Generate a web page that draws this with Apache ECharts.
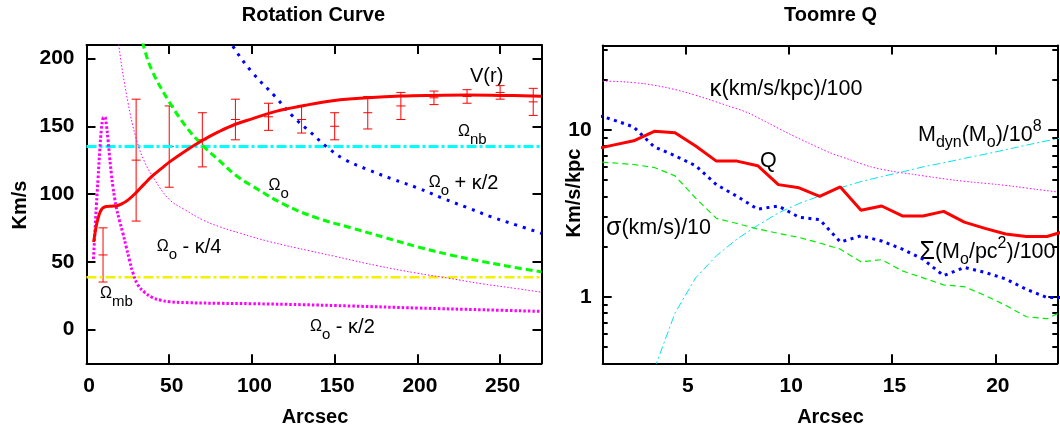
<!DOCTYPE html>
<html>
<head>
<meta charset="utf-8">
<script src="https://cdn.jsdelivr.net/npm/echarts@6/dist/echarts.min.js"></script>
<style>
html,body{margin:0;padding:0;background:#fff;}
#chart{width:1060px;height:433px;}
</style>
</head>
<body>
<div id="chart"></div>
<script>
// ---------------- Left panel: Rotation Curve ----------------
const leftXTicks = [0, 50, 100, 150, 200, 250];
const leftYTicks = [0, 50, 100, 150, 200];

// V(r) model curve
const vrX = [4.3, 5, 6, 7, 8, 9, 10, 12, 15, 18, 21, 25, 30, 35, 40, 45, 50, 60, 70, 80, 90, 100, 115, 130, 150, 170, 190, 210, 230, 250, 275];
const vrY = [64.5, 70, 77, 82, 86, 88.5, 89.8, 90.7, 91, 91.2, 92.5, 95.5, 101, 107.5, 113.5, 118.5, 123.5, 132, 139.5, 146, 151.5, 155.5, 161.2, 165, 169, 171, 172.3, 172.8, 173, 172.8, 172.2];

// observed points with error bars
const obsX = [10, 30, 50, 70, 90, 110, 130, 150, 170, 190, 210, 230, 250, 270];
const obsV = [55, 125, 135, 140, 155, 157, 155, 150, 160, 165, 171, 172, 175, 168];
const obsErr = [20, 45, 30, 20, 15, 10, 10, 10, 12, 10, 5, 5, 5, 10];

// Omega_o (green dashed)
const omX = [20, 25, 30, 35, 40, 50, 60, 70, 80, 90, 100, 120, 140, 160, 180, 200, 220, 240, 260, 275];
const omY = [300, 258, 232, 207, 190, 168, 150, 136, 125, 114, 106, 92, 82, 75, 68, 61, 55, 50, 45.5, 42.5];

// Omega_o + kappa/2 (blue dotted)
const opX = [70, 80, 88, 100, 114, 125, 135, 145, 156, 170, 185, 200, 215, 230, 245, 260, 275];
const opY = [250, 228, 210, 190, 172, 157, 146, 135, 125.5, 118, 111, 104.5, 97, 90, 83, 77, 71];

// Omega_o - kappa/4 (thin magenta dotted)
const oq4X = [15, 19.5, 25, 30, 35, 41, 50, 60, 70, 80, 93, 110, 135, 150, 176, 200, 218, 240, 255, 275];
const oq4Y = [262, 210, 168, 141, 124, 111, 96, 88, 81, 76, 71, 65, 58, 54, 47, 41.5, 38, 33.5, 31, 27.5];

// Omega_o - kappa/2 (thick magenta dotted)
const oq2X = [4.2, 5, 6, 7, 8, 9, 10, 11, 12, 13, 14, 15, 16, 17, 18, 20, 22, 24, 26, 28, 31, 35, 40, 45, 50, 60, 80, 100, 130, 160, 200, 240, 275];
const oq2Y = [52, 70, 92, 112, 132, 148, 156, 157, 151, 140, 127, 115, 105, 97, 90, 80, 71, 61, 51, 42, 33, 27.5, 23.5, 21.5, 20.5, 19.8, 19.3, 19, 18.3, 17.3, 15.8, 14.5, 13.3];

// pattern speeds (horizontal lines)
const omegaNbX = [0, 275];
const omegaNbY = [135, 135];
const omegaMbX = [0, 275];
const omegaMbY = [38.5, 38.5];

// ---------------- Right panel: Toomre Q ----------------
const rightXTicks = [5, 10, 15, 20];
const rightYMajor = [1, 10];
const rightYMinor = [0.5, 0.6, 0.7, 0.8, 0.9, 2, 3, 4, 5, 6, 7, 8, 9, 20, 30];

const rX = [0.5, 1.5, 2.5, 3.5, 4.5, 5.5, 6.5, 7.5, 8.5, 9.5, 10.5, 11.5, 12.5, 13.5, 14.5, 15.5, 16.5, 17.5, 18.5, 19.5, 20.5, 21.5, 22.5, 23.5];
const qVal =     [7.6, 8.1, 8.6, 9.8, 9.6, 8.0, 6.5, 6.5, 6.1, 4.7, 4.5, 4.0, 4.55, 3.3, 3.5, 3.05, 3.05, 3.25, 2.8, 2.57, 2.38, 2.3, 2.3, 2.5];
const sigmaSurf = [12.5, 11.5, 10.4, 7.9, 7.0, 6.1, 4.7, 4.0, 3.35, 3.5, 3.0, 2.9, 2.13, 2.32, 2.16, 1.93, 1.68, 1.34, 1.5, 1.4, 1.28, 1.11, 0.99, 0.99];
const sigmaVel = [6.45, 6.35, 6.2, 5.95, 5.3, 3.9, 2.95, 2.75, 2.55, 2.4, 2.27, 2.1, 1.93, 1.62, 1.67, 1.43, 1.3, 1.18, 1.15, 1.02, 0.89, 0.76, 0.74, 0.85];

const kapX = [1, 2, 3, 4, 5, 6, 7, 8, 9, 10, 11, 12, 13, 14, 15, 16, 17, 18, 19, 20, 21, 22, 23];
const kapVal = [19.6, 19.4, 18.9, 18.0, 16.8, 15.4, 14.0, 12.7, 11.0, 9.5, 8.3, 7.3, 6.6, 6.0, 5.65, 5.42, 5.2, 5.0, 4.85, 4.72, 4.57, 4.4, 4.25];

const mdynX = [3.5, 4.5, 5.5, 6.5, 7.5, 8.5, 9.5, 10.5, 11.5, 12.5, 13.5, 14.5, 15.5, 16.5, 17.5, 18.5, 19.5, 20.5, 21.5, 22.5, 23.5];
const mdynVal = [0.37, 0.80, 1.30, 1.76, 2.22, 2.68, 3.18, 3.62, 4.02, 4.5, 4.9, 5.25, 5.6, 6.0, 6.35, 6.75, 7.15, 7.6, 8.1, 8.6, 9.1];

// ---------------- helpers ----------------
const FF = '"Liberation Sans", Arial, Helvetica, sans-serif';
const zip = (xs, ys) => xs.map((x, i) => [x, ys[i]]);
const mctx = document.createElement('canvas').getContext('2d');
function tw(t, size, weight) { mctx.font = (weight || 'normal') + ' ' + size + 'px ' + FF; return mctx.measureText(t).width; }
// parts: [text, size, dy]
function richLabel(x, y, parts) {
  let cx = x; const children = [];
  parts.forEach(p => {
    const [t, size, dy] = p;
    children.push({ type: 'text', x: cx, y: y + (dy || 0),
      style: { text: t, font: 'normal ' + size + 'px ' + FF, fill: '#000', align: 'left', textAlign: 'left', verticalAlign: 'middle', textVerticalAlign: 'middle' } });
    cx += tw(t, size);
  });
  return { type: 'group', children: children, silent: true };
}
function plainText(x, y, t, size, weight, rot) {
  return { type: 'text', x: x, y: y, rotation: rot || 0,
    style: { text: t, font: weight + ' ' + size + 'px ' + FF, fill: '#000', align: 'center', textAlign: 'center', verticalAlign: 'middle', textVerticalAlign: 'middle' } };
}

const tickLabel = { color: '#000', fontFamily: FF, fontWeight: 'bold', fontSize: 21 };
const frameLine = { show: true, onZero: false, lineStyle: { color: '#000', width: 2 } };
function axisBase(extra) {
  return Object.assign({ splitLine: { show: false }, axisLine: frameLine }, extra);
}
function ticks(len, vals) {
  return { inside: true, length: len, customValues: vals, lineStyle: { color: '#000', width: 2 } };
}

const G0 = { left: 86.5, top: 45, width: 455, height: 318.3, containLabel: false, outerBoundsMode: 'none' };
const G1 = { left: 602.7, top: 45.5, width: 454.6, height: 317.8, containLabel: false, outerBoundsMode: 'none' };

const OM = 16, SUB = 15, TXT = 20, SD = 8;
const TXT2 = 21.5, SUB2 = 16;

const option = {
  animation: false,
  backgroundColor: '#fff',
  grid: [G0, G1],
  xAxis: [
    axisBase({ gridIndex: 0, type: 'value', position: 'bottom', min: 0, max: 275,
      axisTick: ticks(9, leftXTicks),
      axisLabel: Object.assign({ margin: 12, customValues: leftXTicks, padding: [0, 0, 0, 5] }, tickLabel) }),
    axisBase({ gridIndex: 0, type: 'value', position: 'top', min: 0, max: 275,
      axisTick: ticks(9, leftXTicks), axisLabel: { show: false } }),
    axisBase({ gridIndex: 1, type: 'value', position: 'bottom', min: 1, max: 23,
      axisTick: ticks(9, rightXTicks),
      axisLabel: Object.assign({ margin: 12, customValues: rightXTicks, padding: [0, 0, 0, 5] }, tickLabel) }),
    axisBase({ gridIndex: 1, type: 'value', position: 'top', min: 1, max: 23,
      axisTick: ticks(9, rightXTicks), axisLabel: { show: false } })
  ],
  yAxis: [
    axisBase({ gridIndex: 0, type: 'value', position: 'left', min: -25, max: 210,
      axisTick: ticks(9, leftYTicks),
      axisLabel: Object.assign({ margin: 12, customValues: leftYTicks }, tickLabel) }),
    axisBase({ gridIndex: 0, type: 'value', position: 'right', min: -25, max: 210,
      axisTick: ticks(9, leftYTicks), axisLabel: { show: false } }),
    axisBase({ gridIndex: 1, type: 'log', position: 'left', min: 0.4, max: 32, logBase: 10,
      axisTick: ticks(9, rightYMajor),
      axisLabel: Object.assign({ margin: 11, customValues: rightYMajor }, tickLabel) }),
    axisBase({ gridIndex: 1, type: 'log', position: 'right', min: 0.4, max: 32, logBase: 10,
      axisTick: ticks(9, rightYMajor), axisLabel: { show: false } }),
    axisBase({ gridIndex: 1, type: 'log', position: 'left', min: 0.4, max: 32, logBase: 10,
      axisLine: { show: false }, axisTick: ticks(5, rightYMinor), axisLabel: { show: false } }),
    axisBase({ gridIndex: 1, type: 'log', position: 'right', min: 0.4, max: 32, logBase: 10,
      axisLine: { show: false }, axisTick: ticks(5, rightYMinor), axisLabel: { show: false } })
  ],
  series: [
    // ----- left -----
    { type: 'line', xAxisIndex: 0, yAxisIndex: 0, data: zip(omegaNbX, omegaNbY), symbol: 'none',
      lineStyle: { color: '#00ffff', width: 3, type: [10, 3, 3, 3] } },
    { type: 'line', xAxisIndex: 0, yAxisIndex: 0, data: zip(omegaMbX, omegaMbY), symbol: 'none',
      lineStyle: { color: '#f2f200', width: 2.5, type: [10, 3, 3, 3] } },
    { type: 'line', xAxisIndex: 0, yAxisIndex: 0, data: zip(oq4X, oq4Y), symbol: 'none', smooth: 0.4,
      lineStyle: { color: '#ff00ff', width: 1, type: [1.5, 2] } },
    { type: 'line', xAxisIndex: 0, yAxisIndex: 0, data: zip(oq2X, oq2Y), symbol: 'none', smooth: 0.4,
      lineStyle: { color: '#ff00ff', width: 3, type: [2.5, 2] } },
    { type: 'line', xAxisIndex: 0, yAxisIndex: 0, data: zip(omX, omY), symbol: 'none', smooth: 0.4,
      lineStyle: { color: '#00ff00', width: 3, type: [7, 4] } },
    { type: 'line', xAxisIndex: 0, yAxisIndex: 0, data: zip(opX, opY), symbol: 'none', smooth: 0.4,
      lineStyle: { color: '#0000ff', width: 3, type: [3, 6] } },
    { type: 'custom', xAxisIndex: 0, yAxisIndex: 0,
      data: obsX.map((x, i) => [x, obsV[i], obsV[i] - obsErr[i], obsV[i] + obsErr[i]]),
      encode: { x: 0, y: [1, 2, 3] },
      renderItem: function (params, api) {
        const x = api.value(0);
        const pm = api.coord([x, api.value(1)]);
        const pl = api.coord([x, api.value(2)]);
        const ph = api.coord([x, api.value(3)]);
        const w = 4.5;
        const st = { stroke: '#ff0000', lineWidth: 1 };
        const L = (x1, y1, x2, y2) => ({ type: 'line', shape: { x1: x1, y1: y1, x2: x2, y2: y2 }, style: st });
        return { type: 'group', children: [
          L(pl[0], pl[1], ph[0], ph[1]),
          L(pl[0] - w, pl[1], pl[0] + w, pl[1]),
          L(ph[0] - w, ph[1], ph[0] + w, ph[1]),
          L(pm[0] - w, pm[1], pm[0] + w, pm[1])
        ] };
      } },
    { type: 'line', xAxisIndex: 0, yAxisIndex: 0, data: zip(vrX, vrY), symbol: 'none', smooth: 0.4,
      lineStyle: { color: '#ff0000', width: 3 } },
    // ----- right -----
    { type: 'line', xAxisIndex: 2, yAxisIndex: 2, data: zip(kapX, kapVal), symbol: 'none', smooth: 0.3,
      lineStyle: { color: '#ff00ff', width: 1, type: [1.5, 2] } },
    { type: 'line', xAxisIndex: 2, yAxisIndex: 2, data: zip(mdynX, mdynVal), symbol: 'none',
      lineStyle: { color: '#00e5ee', width: 1, type: [8, 3, 2, 3] } },
    { type: 'line', xAxisIndex: 2, yAxisIndex: 2, data: zip(rX, sigmaVel), symbol: 'none',
      lineStyle: { color: '#00ee00', width: 1.2, type: [6, 4] } },
    { type: 'line', xAxisIndex: 2, yAxisIndex: 2, data: zip(rX, sigmaSurf), symbol: 'none',
      lineStyle: { color: '#0000ff', width: 3, type: [3, 4.5] } },
    { type: 'line', xAxisIndex: 2, yAxisIndex: 2, data: zip(rX, qVal), symbol: 'none',
      lineStyle: { color: '#ff0000', width: 3 } }
  ],
  graphic: [
    plainText(313.4, 15, 'Rotation Curve', 20, 'bold'),
    plainText(830.5, 15, 'Toomre Q', 20, 'bold'),
    plainText(315, 417, 'Arcsec', 20, 'bold'),
    plainText(830.5, 417, 'Arcsec', 20, 'bold'),
    plainText(20, 205, 'Km/s', 20, 'bold', Math.PI / 2),
    plainText(574, 193, 'Km/s/kpc', 20, 'bold', Math.PI / 2),
    // left annotations
    richLabel(470, 76, [['V(r)', TXT, 0]]),
    richLabel(458, 132, [['Ω', OM, 0], ['nb', SUB, SD]]),
    richLabel(268.6, 186, [['Ω', OM, 0], ['o', SUB, SD]]),
    richLabel(428.7, 183, [['Ω', OM, 0], ['o', SUB, SD], [' + κ/2', TXT, 0]]),
    richLabel(156.7, 247, [['Ω', OM, 0], ['o', SUB, SD], [' - κ/4', TXT, 0]]),
    richLabel(100, 294, [['Ω', OM, 0], ['mb', SUB, SD]]),
    richLabel(310, 327, [['Ω', OM, 0], ['o', SUB, SD], [' - κ/2', TXT, 0]]),
    // right annotations
    richLabel(709.5, 89, [['κ', 24, 0], ['(km/s/kpc)/100', TXT2, 0]]),
    richLabel(760, 161, [['Q', TXT2, 0]]),
    richLabel(918, 135, [['M', TXT2, 0], ['dyn', SUB2, SD], ['(M', TXT2, 0], ['o', SUB2, SD], [')/10', TXT2, 0], ['8', SUB2, -8]]),
    richLabel(606, 228, [['σ', 25, 0], ['(km/s)/10', TXT2, 0]]),
    richLabel(919.5, 252, [['Σ', 25, 0], ['(M', TXT2, 0], ['o', SUB2, SD], ['/pc', TXT2, 0], ['2', SUB2, -8], [')/100', TXT2, 0]])
  ]
};

const chart = echarts.init(document.getElementById('chart'), null, { renderer: 'canvas', width: 1060, height: 433 });
chart.setOption(option);
</script>
</body>
</html>
